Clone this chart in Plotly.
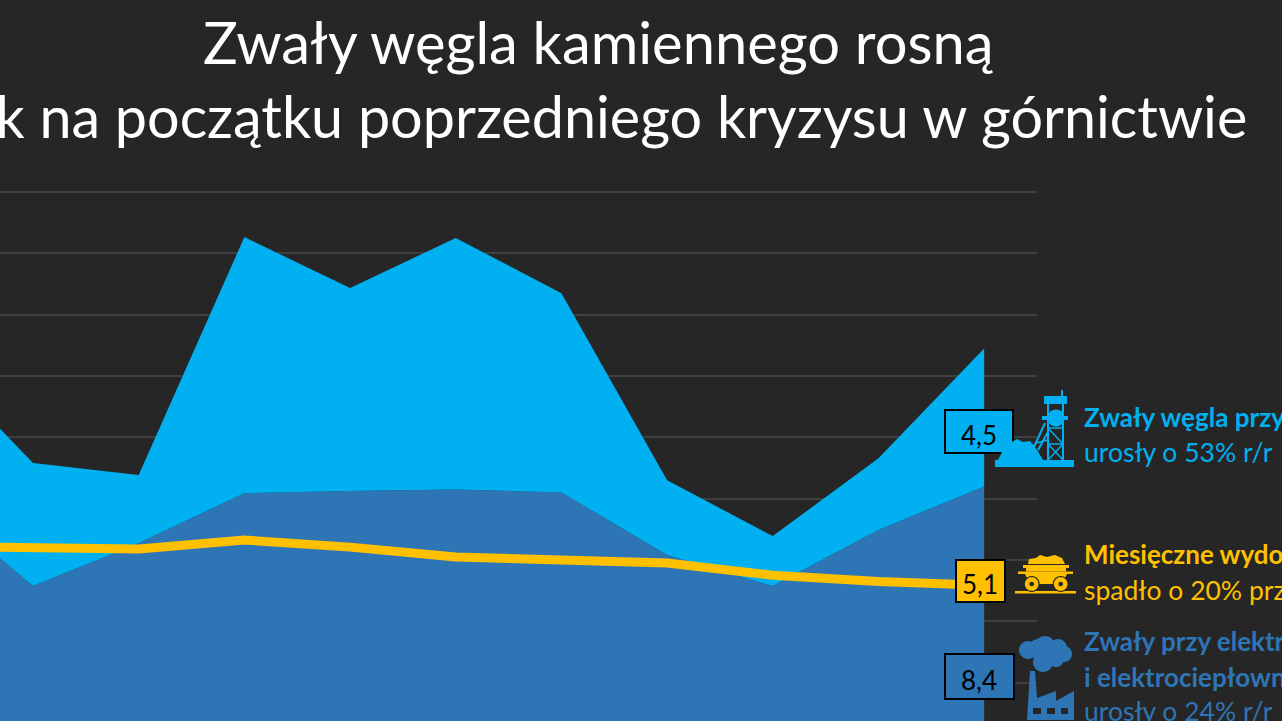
import numpy as np
import plotly.graph_objects as go

BG = "#262626"
LIGHT = "#00B0F0"
DARK = "#2E75B6"
YEL = "#FFC000"
GRID = "#404040"

periods = list(range(11))
power_stocks = [8.05, 5.15, 6.55, 8.18, 8.25, 8.3, 8.2, 6.16, 5.15, 6.98, 8.4]
mine_stocks = [4.7, 4.01, 2.22, 8.35, 6.62, 8.2, 6.5, 2.44, 1.63, 2.34, 4.5]
output = [6.45, 6.39, 6.36, 6.65, 6.42, 6.1, 6.0, 5.9, 5.5, 5.3, 5.18]

title_1 = "Zwały węgla kamiennego rosną"
title_2 = "tak jak na początku poprzedniego kryzysu w górnictwie"

PW, PT = 1037.0, 191.0
PH = 721.0 - PT
FONT = "Lato"


def X(px):
    return px / PW


def Y(py):
    return (721.0 - py) / PH


def path(points, close=True):
    s = "M" + " L".join(f"{X(a):.5f},{Y(b):.5f}" for a, b in points)
    return s + (" Z" if close else "")


def circle(cx, cy, r):
    t = np.linspace(0, 2 * np.pi, 28, endpoint=False)
    return [(cx + r * np.cos(a), cy + r * np.sin(a)) for a in t]


shapes = []


def poly(points, color):
    shapes.append(dict(type="path", xref="paper", yref="paper", path=path(points),
                       fillcolor=color, line=dict(width=0)))


def stroke(points, color, w=1.5):
    shapes.append(dict(type="path", xref="paper", yref="paper", path=path(points, False),
                       line=dict(color=color, width=w)))


def rect(x0, y0, x1, y1, color):
    poly([(x0, y0), (x1, y0), (x1, y1), (x0, y1)], color)


def box(x0, y0, x1, y1, color):
    shapes.append(dict(type="rect", xref="paper", yref="paper", x0=X(x0), x1=X(x1), y0=Y(y1), y1=Y(y0),
                       fillcolor=color, line=dict(color="#000000", width=2)))


box(945, 410, 1013, 453, LIGHT)
box(956, 560, 1005, 602, YEL)
box(945, 654, 1014, 699, DARK)

# headframe icon
rect(995, 460, 1074, 467, LIGHT)
poly([(998, 460), (1002, 452), (1010, 443), (1017, 439), (1023, 442), (1030, 441), (1037, 450), (1043, 460)], LIGHT)
rect(1044, 396, 1067, 404, LIGHT)
rect(1061, 390, 1063, 396, LIGHT)
rect(1042, 416, 1068, 420, LIGHT)
poly(circle(1056, 418, 8.5), LIGHT)
stroke([(1048, 404), (1048, 460)], LIGHT, 2)
stroke([(1063, 404), (1063, 460)], LIGHT, 2)
stroke([(1048, 428), (1063, 428)], LIGHT)
stroke([(1048, 428), (1063, 444)], LIGHT)
stroke([(1048, 444), (1063, 444)], LIGHT)
stroke([(1048, 444), (1063, 460)], LIGHT)
stroke([(1048, 460), (1063, 444)], LIGHT)
stroke([(1045, 423), (1033, 449)], LIGHT, 2)
stroke([(1048, 432), (1038, 450)], LIGHT, 2)
stroke([(1036, 443), (1048, 440)], LIGHT)

# mine cart icon
rect(1015, 591, 1076, 593.5, YEL)
rect(1023, 565, 1069, 568, YEL)
rect(1018, 571.5, 1073, 574, YEL)
rect(1026, 568, 1066, 571.5, YEL)
poly([(1025, 574), (1067, 574), (1062, 584), (1030, 584)], YEL)
for cx in (1031.7, 1060.7):
    poly(circle(cx, 584, 8), BG)
    poly(circle(cx, 584, 6.8), YEL)
    poly(circle(cx, 584, 2.3), BG)
poly([(1028, 564), (1029, 559), (1036, 558), (1040, 555), (1047, 557), (1055, 555), (1062, 558), (1065, 564)], YEL)

# cloud and factory icon
for c in [(1028, 650, 9), (1038, 648, 9), (1045, 646, 10), (1058, 648, 9), (1064, 654, 8),
          (1043, 662, 10), (1056, 659, 8), (1045, 654, 12)]:
    poly(circle(*c), DARK)
poly([(1027, 720), (1030, 671), (1035, 671), (1037, 698), (1056, 691), (1056, 701), (1074, 691), (1074, 720)], DARK)
rect(1033, 708, 1041, 714, BG)
rect(1047, 708, 1055, 714, BG)
rect(1061, 708, 1068, 714, BG)


def note(px, py, text, color, size, anchor="left", bold=False):
    t = f"<b>{text}</b>" if bold else text
    return dict(xref="paper", yref="paper", x=X(px), y=Y(py), text=t, showarrow=False, xanchor=anchor,
                yanchor="middle", font=dict(family=FONT, size=size, color=color))


annotations = [
    note(598.5, 41, title_1, "#FFFFFF", 57.8, "center"),
    note(1249, 115, title_2, "#FFFFFF", 57.5, "right"),
    note(979, 435, "4,5", "#000000", 26, "center"),
    note(980, 584, "5,1", "#000000", 26, "center"),
    note(979, 680, "8,4", "#000000", 26, "center"),
    note(1082, 417, "Zwały węgla przy kopalniach", LIGHT, 26, bold=True),
    note(1082, 452, "urosły o 53% r/r", LIGHT, 26.5),
    note(1082, 554, "Miesięczne wydobycie", YEL, 26, bold=True),
    note(1082, 590, "spadło o 20% przez rok", YEL, 26.5),
    note(1082, 641, "Zwały przy elektrowniach", DARK, 26, bold=True),
    note(1082, 677, "i elektrociepłowniach", DARK, 26, bold=True),
    note(1082, 711, "urosły o 24% r/r", DARK, 26.5),
]

fig = go.Figure()
fig.add_trace(go.Scatter(x=periods, y=power_stocks, stackgroup="a", mode="none", fillcolor=DARK))
fig.add_trace(go.Scatter(x=periods, y=mine_stocks, stackgroup="a", mode="none", fillcolor=LIGHT))
fig.add_trace(go.Scatter(x=periods, y=output, mode="lines", line=dict(color=YEL, width=9)))

fig.update_layout(
    width=1282, height=721, showlegend=False,
    paper_bgcolor=BG, plot_bgcolor=BG,
    margin=dict(l=0, r=1282 - PW, t=PT, b=0, pad=0),
    xaxis=dict(range=[0.6877, 10.5], showgrid=False, zeroline=False, showticklabels=False, ticks=""),
    yaxis=dict(range=[0.75, 18.033], tick0=0, dtick=2, showgrid=True, gridcolor=GRID, gridwidth=2,
               zeroline=False, showticklabels=False, ticks=""),
    shapes=shapes, annotations=annotations,
)
fig.write_html("out.html", config={"displayModeBar": False},
               post_script="document.body.style.margin='0';document.body.style.overflow='hidden';")
